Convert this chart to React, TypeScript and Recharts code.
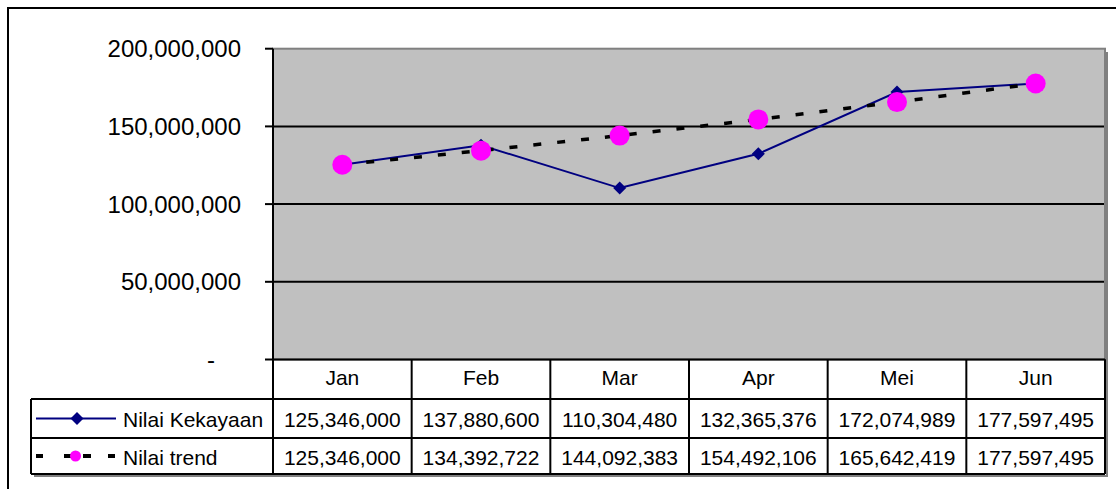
import { LineChart, Line, XAxis, YAxis, CartesianGrid, Customized } from 'recharts';

// chart values
const months = ['Jan', 'Feb', 'Mar', 'Apr', 'Mei', 'Jun'];
const nilaiKekayaan = [125346000, 137880600, 110304480, 132365376, 172074989, 177597495];
const nilaiTrend = [125346000, 134392722, 144092383, 154492106, 165642419, 177597495];
const yTicks = [0, 50000000, 100000000, 150000000, 200000000];

const rows = months.map((m, i) => ({
  month: m,
  kekayaan: nilaiKekayaan[i],
  trend: nilaiTrend[i],
}));

const FONT = '"Liberation Sans", Arial, sans-serif';
const fmt = (v: number) => v.toLocaleString('en-US');

// table layout
const PLOT_LEFT = 273;
const PLOT_RIGHT = 1105;
const PLOT_TOP = 48.7;
const PLOT_BOTTOM = 359.5;
const COL_HALF = (PLOT_RIGHT - PLOT_LEFT) / months.length / 2;
const ROW1_TOP = 399;
const ROW2_TOP = 438;
const TABLE_BOTTOM = 474;
const LEGEND_LEFT = 31;

function YTick(props: any) {
  const { x, y, payload } = props;
  const v = payload.value as number;
  return (
    <text
      x={v === 0 ? x - 26 : x}
      y={y}
      dy="0.355em"
      textAnchor="end"
      fontSize={24}
      fontFamily={FONT}
      fill="#000"
    >
      {v === 0 ? '-' : fmt(v)}
    </text>
  );
}

function XTick(props: any) {
  const { x, payload } = props;
  const i = payload.index as number;
  const right = x + COL_HALF;
  return (
    <g>
      <text x={x} y={385} textAnchor="middle" fontSize={21} fontFamily={FONT} fill="#000">
        {months[i]}
      </text>
      <text x={x} y={427} textAnchor="middle" fontSize={21} fontFamily={FONT} fill="#000">
        {fmt(nilaiKekayaan[i])}
      </text>
      <text x={x} y={465} textAnchor="middle" fontSize={21} fontFamily={FONT} fill="#000">
        {fmt(nilaiTrend[i])}
      </text>
      <line x1={right} y1={PLOT_BOTTOM} x2={right} y2={TABLE_BOTTOM} stroke="#000" strokeWidth={2} />
    </g>
  );
}

function Diamond(props: any) {
  const { cx, cy } = props;
  if (cx == null || cy == null) return null;
  const s = 6.5;
  return (
    <path
      d={`M${cx},${cy - s}L${cx + s},${cy}L${cx},${cy + s}L${cx - s},${cy}Z`}
      fill="#000080"
      stroke="none"
    />
  );
}

function PlotBorder() {
  return (
    <rect
      x={PLOT_LEFT}
      y={PLOT_TOP}
      width={PLOT_RIGHT - PLOT_LEFT}
      height={PLOT_BOTTOM - PLOT_TOP}
      fill="none"
      stroke="#808080"
      strokeWidth={2}
    />
  );
}

function TableFrame() {
  const r1 = (ROW1_TOP + ROW2_TOP) / 2;
  const r2 = (ROW2_TOP + TABLE_BOTTOM) / 2;
  return (
    <g>
      {/* shadow */}
      <line x1={PLOT_RIGHT + 2} y1={52} x2={PLOT_RIGHT + 2} y2={TABLE_BOTTOM + 2} stroke="#808080" strokeWidth={2} />
      <line x1={LEGEND_LEFT + 3} y1={TABLE_BOTTOM + 2} x2={PLOT_RIGHT + 3} y2={TABLE_BOTTOM + 2} stroke="#808080" strokeWidth={2} />
      {[ROW1_TOP, ROW2_TOP, TABLE_BOTTOM].map((y) => (
        <line key={y} x1={LEGEND_LEFT} y1={y} x2={PLOT_RIGHT} y2={y} stroke="#000" strokeWidth={2} />
      ))}
      <line x1={LEGEND_LEFT} y1={ROW1_TOP} x2={LEGEND_LEFT} y2={TABLE_BOTTOM} stroke="#000" strokeWidth={2} />
      <line x1={PLOT_LEFT} y1={PLOT_BOTTOM} x2={PLOT_LEFT} y2={TABLE_BOTTOM} stroke="#000" strokeWidth={2} />
      <line x1={PLOT_RIGHT} y1={PLOT_BOTTOM} x2={PLOT_RIGHT} y2={TABLE_BOTTOM} stroke="#000" strokeWidth={2} />

      {/* legend keys */}
      <line x1={36} y1={r1} x2={116} y2={r1} stroke="#000080" strokeWidth={2} />
      <path d={`M77,${r1 - 6.5}L83.5,${r1}L77,${r1 + 6.5}L70.5,${r1}Z`} fill="#000080" />
      <text x={123} y={427} fontSize={21} fontFamily={FONT} fill="#000">Nilai Kekayaan</text>

      {[[36, 43], [64, 71], [83, 91], [108, 115]].map(([a, b]) => (
        <line key={a} x1={a} y1={r2} x2={b} y2={r2} stroke="#000" strokeWidth={4} />
      ))}
      <circle cx={75.5} cy={r2} r={5.5} fill="#FF00FF" />
      <text x={123} y={465} fontSize={21} fontFamily={FONT} fill="#000">Nilai trend</text>
    </g>
  );
}

export default function App() {
  return (
    <div style={{ position: 'absolute', left: 0, top: 0, width: 1116, height: 489, background: '#fff' }}>
      <svg width={1116} height={489} style={{ position: 'absolute', left: 0, top: 0 }}>
        <rect x={8} y={8} width={1200} height={600} fill="none" stroke="#000" strokeWidth={2} />
      </svg>
      <div style={{ position: 'absolute', left: 0, top: 0 }}>
        <LineChart
          width={1116}
          height={489}
          data={rows}
          margin={{ top: PLOT_TOP, right: 11, bottom: 0, left: 0 }}
        >
          <CartesianGrid
            fill="#C0C0C0"
            fillOpacity={1}
            stroke="#000"
            strokeWidth={2}
            vertical={false}
            horizontalValues={[50000000, 100000000, 150000000]}
          />
          <Customized component={<PlotBorder />} />
          <XAxis
            dataKey="month"
            height={129.5}
            padding={{ left: COL_HALF, right: COL_HALF }}
            axisLine={{ stroke: '#000', strokeWidth: 2 }}
            tickLine={false}
            tickSize={0}
            tick={<XTick />}
            interval={0}
          />
          <YAxis
            width={PLOT_LEFT}
            domain={[0, 200000000]}
            ticks={yTicks}
            axisLine={{ stroke: '#000', strokeWidth: 2 }}
            tickLine={{ stroke: '#000', strokeWidth: 2 }}
            tickSize={8}
            tickMargin={24}
            tick={<YTick />}
          />
          <Customized component={<TableFrame />} />
          <Line
            dataKey="kekayaan"
            stroke="#000080"
            strokeWidth={2}
            dot={<Diamond />}
            activeDot={false}
            isAnimationActive={false}
          />
          <Line
            dataKey="trend"
            stroke="#000"
            strokeWidth={3.5}
            strokeDasharray="8 16"
            dot={{ r: 10, fill: '#FF00FF', stroke: 'none', strokeDasharray: '' }}
            activeDot={false}
            isAnimationActive={false}
          />
        </LineChart>
      </div>
    </div>
  );
}
